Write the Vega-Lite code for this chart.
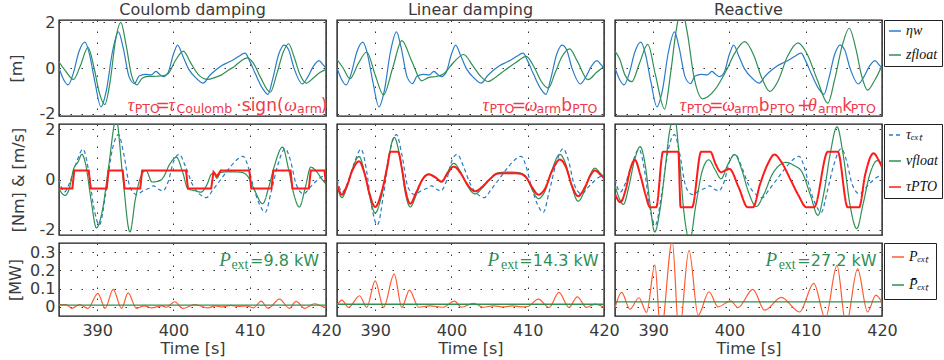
{
"$schema": "https://vega.github.io/schema/vega-lite/v6.json",
"background": "white",
"padding": {"left": 6, "top": 0, "right": 0, "bottom": 0},
"bounds": "flush",
"columns": 3,
"spacing": {"row": 8, "column": 11},
"config": {
  "view": {"stroke": "#1a1a1a", "strokeWidth": 1.4},
  "font": "DejaVu Sans",
  "axis": {"domain": false, "ticks": false, "grid": true, "gridColor": "#333", "gridDash": [1.5, 9.5], "gridWidth": 1, "labelFont": "DejaVu Sans", "labelFontSize": 16, "labelColor": "#3a3a3a", "titleFont": "DejaVu Sans", "titleFontSize": 16, "titleFontWeight": "normal", "titleColor": "#3a3a3a", "labelPadding": 4},
  "title": {"font": "DejaVu Sans", "fontSize": 16, "fontWeight": "normal", "color": "#3a3a3a", "offset": 2, "baseline": "alphabetic"},
  "legend": {"orient": "right", "offset": 2, "strokeColor": "#222", "fillColor": "white", "symbolType": "stroke", "symbolSize": 144, "symbolStrokeWidth": 1.5, "labelFont": "Liberation Serif", "labelFontStyle": "italic", "labelFontSize": 14, "labelColor": "#111", "labelOffset": 4, "title": null}
},
"datasets": {
  "eta": [{"t":385.0,"v":0.0},{"t":385.6,"v":-0.5},{"t":386.2,"v":-0.74},{"t":386.9,"v":-0.2},{"t":387.6,"v":0.7},{"t":388.4,"v":1.13},{"t":389.0,"v":0.6},{"t":389.7,"v":-0.6},{"t":390.5,"v":-1.7},{"t":391.2,"v":-1.0},{"t":392.0,"v":0.7},{"t":392.8,"v":1.58},{"t":393.4,"v":0.9},{"t":394.2,"v":-0.4},{"t":394.9,"v":-0.68},{"t":395.5,"v":-0.35},{"t":396.3,"v":-0.28},{"t":397.1,"v":-0.3},{"t":397.7,"v":-0.15},{"t":398.1,"v":-0.25},{"t":398.7,"v":-0.38},{"t":399.3,"v":-0.2},{"t":400.0,"v":0.6},{"t":400.55,"v":1.0},{"t":401.2,"v":0.55},{"t":402.0,"v":-0.05},{"t":403.0,"v":-0.45},{"t":403.9,"v":-0.66},{"t":404.7,"v":-0.35},{"t":405.5,"v":-0.1},{"t":406.3,"v":0.1},{"t":407.2,"v":0.25},{"t":407.8,"v":0.35},{"t":408.5,"v":0.5},{"t":409.4,"v":0.65},{"t":410.0,"v":0.3},{"t":410.8,"v":-0.3},{"t":411.7,"v":-0.9},{"t":412.4,"v":-1.15},{"t":413.0,"v":-0.5},{"t":413.8,"v":0.6},{"t":414.5,"v":1.0},{"t":415.1,"v":0.8},{"t":415.8,"v":0.0},{"t":416.9,"v":-0.7},{"t":417.6,"v":-0.4},{"t":418.4,"v":0.1},{"t":419.1,"v":0.32},{"t":419.6,"v":0.15},{"t":420.0,"v":0.0}],
  "zC": [{"t":385.0,"v":0.26},{"t":385.8,"v":-0.1},{"t":386.9,"v":-0.5},{"t":387.8,"v":0.1},{"t":388.8,"v":0.9},{"t":389.6,"v":0.0},{"t":390.3,"v":-1.1},{"t":391.0,"v":-1.6},{"t":391.7,"v":-0.6},{"t":392.4,"v":1.2},{"t":393.1,"v":2.0},{"t":393.8,"v":1.0},{"t":394.5,"v":-0.3},{"t":395.2,"v":-0.74},{"t":395.9,"v":-0.45},{"t":396.7,"v":-0.37},{"t":397.8,"v":-0.36},{"t":398.6,"v":-0.34},{"t":399.3,"v":-0.25},{"t":400.3,"v":0.35},{"t":401.3,"v":0.74},{"t":402.3,"v":0.2},{"t":403.3,"v":-0.3},{"t":404.5,"v":-0.5},{"t":405.4,"v":-0.42},{"t":406.3,"v":-0.3},{"t":407.2,"v":-0.1},{"t":408.0,"v":0.07},{"t":408.9,"v":0.32},{"t":409.7,"v":0.44},{"t":410.5,"v":0.2},{"t":411.4,"v":-0.4},{"t":412.7,"v":-1.06},{"t":413.6,"v":-0.2},{"t":414.4,"v":0.7},{"t":415.1,"v":1.06},{"t":415.8,"v":0.5},{"t":416.6,"v":-0.3},{"t":417.4,"v":-0.66},{"t":418.3,"v":-0.45},{"t":419.2,"v":-0.2},{"t":420.0,"v":-0.07}],
  "zL": [{"t":385.0,"v":0.37},{"t":385.8,"v":0.0},{"t":386.7,"v":-0.47},{"t":387.8,"v":0.2},{"t":388.9,"v":0.7},{"t":390.0,"v":-0.3},{"t":391.1,"v":-1.18},{"t":392.3,"v":0.0},{"t":393.5,"v":1.2},{"t":394.8,"v":0.3},{"t":396.1,"v":-0.56},{"t":397.0,"v":-0.42},{"t":398.0,"v":-0.37},{"t":399.0,"v":-0.25},{"t":400.3,"v":0.25},{"t":401.6,"v":0.59},{"t":402.8,"v":0.1},{"t":403.8,"v":-0.35},{"t":404.8,"v":-0.59},{"t":405.8,"v":-0.4},{"t":407.0,"v":-0.1},{"t":408.5,"v":0.25},{"t":409.8,"v":0.51},{"t":410.9,"v":0.0},{"t":411.8,"v":-0.6},{"t":412.7,"v":-0.88},{"t":413.6,"v":-0.2},{"t":414.5,"v":0.5},{"t":415.5,"v":0.84},{"t":416.5,"v":0.3},{"t":417.9,"v":-0.51},{"t":419.0,"v":-0.2},{"t":420.0,"v":0.07}],
  "zR": [{"t":385.0,"v":0.74},{"t":385.6,"v":0.4},{"t":386.3,"v":-0.3},{"t":387.2,"v":-0.6},{"t":388.2,"v":0.2},{"t":389.3,"v":1.03},{"t":390.3,"v":-0.3},{"t":391.5,"v":-1.8},{"t":392.3,"v":-0.2},{"t":393.0,"v":1.6},{"t":393.7,"v":2.6},{"t":394.5,"v":1.5},{"t":395.3,"v":-0.3},{"t":396.5,"v":-1.35},{"t":398.1,"v":-0.95},{"t":399.6,"v":-0.1},{"t":400.7,"v":0.65},{"t":402.0,"v":1.15},{"t":403.2,"v":0.55},{"t":404.2,"v":-0.4},{"t":405.3,"v":-1.03},{"t":406.4,"v":-0.55},{"t":407.6,"v":0.5},{"t":409.0,"v":1.1},{"t":410.2,"v":0.6},{"t":411.5,"v":-0.5},{"t":412.9,"v":-1.54},{"t":413.8,"v":-0.5},{"t":414.8,"v":1.0},{"t":415.7,"v":1.74},{"t":416.6,"v":0.8},{"t":417.3,"v":-0.3},{"t":418.1,"v":-0.97},{"t":419.1,"v":-0.5},{"t":420.0,"v":0.1}],
  "tauext": [{"t":385.0,"v":0.0},{"t":385.7,"v":-0.5},{"t":386.3,"v":-0.2},{"t":387.2,"v":0.6},{"t":388.15,"v":1.2},{"t":388.9,"v":0.3},{"t":389.5,"v":-1.0},{"t":390.3,"v":-1.8},{"t":391.1,"v":-0.6},{"t":392.0,"v":1.2},{"t":392.8,"v":1.78},{"t":393.5,"v":1.0},{"t":394.3,"v":-0.3},{"t":395.2,"v":-0.6},{"t":396.0,"v":-0.45},{"t":396.8,"v":-0.35},{"t":397.4,"v":-0.25},{"t":398.0,"v":-0.38},{"t":398.6,"v":-0.45},{"t":399.3,"v":-0.1},{"t":400.0,"v":0.7},{"t":400.75,"v":1.0},{"t":401.6,"v":0.5},{"t":402.5,"v":-0.2},{"t":403.5,"v":-0.6},{"t":404.3,"v":-0.72},{"t":405.2,"v":-0.4},{"t":406.2,"v":0.0},{"t":407.2,"v":0.4},{"t":408.2,"v":0.75},{"t":409.15,"v":0.92},{"t":409.8,"v":0.5},{"t":410.5,"v":-0.3},{"t":411.3,"v":-1.0},{"t":412.05,"v":-1.3},{"t":412.8,"v":-0.5},{"t":413.7,"v":0.6},{"t":414.65,"v":1.22},{"t":415.3,"v":0.8},{"t":416.1,"v":-0.2},{"t":417.05,"v":-0.57},{"t":417.8,"v":-0.35},{"t":418.6,"v":-0.1},{"t":419.4,"v":0.1},{"t":420.0,"v":0.15}],
  "vC": [{"t":385.0,"v":-0.37},{"t":385.8,"v":-0.63},{"t":386.4,"v":-0.3},{"t":386.9,"v":0.4},{"t":387.5,"v":0.7},{"t":388.0,"v":1.0},{"t":388.5,"v":0.6},{"t":389.2,"v":-0.8},{"t":389.9,"v":-1.92},{"t":390.7,"v":-1.2},{"t":391.5,"v":0.5},{"t":392.5,"v":2.4},{"t":393.3,"v":0.3},{"t":394.3,"v":-2.08},{"t":395.0,"v":-0.8},{"t":395.7,"v":0.1},{"t":396.4,"v":0.36},{"t":397.2,"v":-0.1},{"t":398.2,"v":-0.05},{"t":398.7,"v":0.1},{"t":399.5,"v":0.6},{"t":400.4,"v":0.88},{"t":401.2,"v":0.3},{"t":401.9,"v":-0.37},{"t":402.9,"v":-0.45},{"t":403.6,"v":-0.5},{"t":404.4,"v":-0.2},{"t":405.0,"v":0.22},{"t":405.3,"v":0.25},{"t":405.7,"v":0.05},{"t":406.2,"v":0.28},{"t":407.0,"v":0.3},{"t":408.0,"v":0.3},{"t":409.0,"v":0.28},{"t":409.8,"v":0.1},{"t":410.6,"v":-0.4},{"t":411.7,"v":-0.96},{"t":412.5,"v":-0.3},{"t":413.2,"v":0.5},{"t":414.3,"v":1.28},{"t":415.1,"v":0.4},{"t":415.8,"v":-0.6},{"t":416.5,"v":-1.09},{"t":417.3,"v":-0.3},{"t":418.0,"v":0.49},{"t":418.8,"v":0.3},{"t":419.5,"v":0.0},{"t":420.0,"v":-0.17}],
  "vL": [{"t":385.0,"v":-0.24},{"t":385.65,"v":-0.72},{"t":386.3,"v":-0.3},{"t":387.0,"v":0.4},{"t":387.9,"v":0.91},{"t":388.6,"v":0.3},{"t":389.3,"v":-0.7},{"t":390.0,"v":-1.33},{"t":390.8,"v":-0.7},{"t":391.6,"v":0.6},{"t":392.5,"v":1.67},{"t":393.3,"v":0.8},{"t":394.0,"v":-0.6},{"t":394.6,"v":-1.09},{"t":395.4,"v":-0.6},{"t":396.2,"v":0.0},{"t":397.0,"v":0.22},{"t":397.9,"v":0.1},{"t":398.7,"v":-0.1},{"t":399.5,"v":0.3},{"t":400.3,"v":0.64},{"t":401.2,"v":0.3},{"t":402.1,"v":-0.25},{"t":403.1,"v":-0.57},{"t":404.0,"v":-0.35},{"t":405.0,"v":0.0},{"t":406.0,"v":0.25},{"t":407.0,"v":0.29},{"t":408.0,"v":0.29},{"t":409.0,"v":0.26},{"t":409.8,"v":0.1},{"t":410.6,"v":-0.4},{"t":411.4,"v":-0.76},{"t":412.2,"v":-0.5},{"t":413.2,"v":0.4},{"t":414.2,"v":1.0},{"t":415.0,"v":0.6},{"t":415.8,"v":-0.3},{"t":416.6,"v":-0.86},{"t":417.5,"v":-0.4},{"t":418.2,"v":0.2},{"t":418.8,"v":0.45},{"t":419.5,"v":0.25},{"t":420.0,"v":0.1}],
  "vR": [{"t":385.0,"v":-0.24},{"t":385.5,"v":-0.7},{"t":386.1,"v":-0.99},{"t":386.8,"v":-0.3},{"t":387.5,"v":0.7},{"t":388.3,"v":1.3},{"t":389.0,"v":0.5},{"t":389.6,"v":-1.0},{"t":390.2,"v":-2.08},{"t":390.9,"v":-1.2},{"t":391.6,"v":0.5},{"t":392.1,"v":1.8},{"t":392.8,"v":2.5},{"t":393.4,"v":1.0},{"t":394.0,"v":-1.2},{"t":394.8,"v":-2.4},{"t":395.6,"v":-1.0},{"t":396.4,"v":0.3},{"t":397.3,"v":0.78},{"t":398.1,"v":0.4},{"t":398.9,"v":0.03},{"t":399.8,"v":0.6},{"t":400.7,"v":0.99},{"t":401.6,"v":0.4},{"t":402.5,"v":-0.5},{"t":403.5,"v":-1.07},{"t":404.5,"v":-0.6},{"t":405.6,"v":0.2},{"t":406.5,"v":0.55},{"t":407.4,"v":0.68},{"t":408.5,"v":0.55},{"t":409.5,"v":0.3},{"t":410.6,"v":-0.6},{"t":411.6,"v":-1.42},{"t":412.4,"v":-0.5},{"t":413.2,"v":1.0},{"t":414.1,"v":2.09},{"t":414.9,"v":1.0},{"t":415.8,"v":-1.0},{"t":416.7,"v":-1.95},{"t":417.5,"v":-1.0},{"t":418.4,"v":0.2},{"t":419.4,"v":0.75},{"t":420.0,"v":0.6}],
  "pC": [{"t":385.0,"v":-0.36},{"t":386.75,"v":-0.36},{"t":387.0,"v":0.36},{"t":388.9,"v":0.36},{"t":389.15,"v":-0.36},{"t":391.25,"v":-0.36},{"t":391.5,"v":0.36},{"t":393.35,"v":0.36},{"t":393.6,"v":-0.36},{"t":395.65,"v":-0.36},{"t":395.9,"v":0.36},{"t":401.65,"v":0.36},{"t":401.9,"v":-0.36},{"t":404.95,"v":-0.36},{"t":405.25,"v":0.3},{"t":405.7,"v":0.12},{"t":406.2,"v":0.36},{"t":409.95,"v":0.36},{"t":410.2,"v":-0.36},{"t":412.85,"v":-0.36},{"t":413.1,"v":0.36},{"t":415.35,"v":0.36},{"t":415.6,"v":-0.36},{"t":417.75,"v":-0.36},{"t":418.0,"v":0.36},{"t":419.8,"v":0.36},{"t":420.0,"v":-0.2}],
  "pL": [{"t":385.0,"v":-0.2},{"t":385.65,"v":-0.6},{"t":386.3,"v":-0.25},{"t":387.0,"v":0.35},{"t":387.9,"v":0.72},{"t":388.6,"v":0.25},{"t":389.3,"v":-0.6},{"t":390.0,"v":-1.09},{"t":390.8,"v":-0.55},{"t":391.6,"v":0.5},{"t":392.0,"v":1.1},{"t":393.0,"v":1.1},{"t":393.5,"v":0.45},{"t":394.0,"v":-0.45},{"t":394.6,"v":-0.96},{"t":395.4,"v":-0.5},{"t":396.2,"v":0.0},{"t":397.0,"v":0.2},{"t":397.9,"v":0.08},{"t":398.7,"v":-0.08},{"t":399.5,"v":0.25},{"t":400.3,"v":0.51},{"t":401.2,"v":0.25},{"t":402.1,"v":-0.2},{"t":403.1,"v":-0.47},{"t":404.0,"v":-0.3},{"t":405.0,"v":0.0},{"t":406.0,"v":0.23},{"t":407.0,"v":0.25},{"t":408.0,"v":0.25},{"t":409.0,"v":0.23},{"t":409.8,"v":0.08},{"t":410.6,"v":-0.32},{"t":411.4,"v":-0.6},{"t":412.2,"v":-0.4},{"t":413.2,"v":0.35},{"t":414.2,"v":0.79},{"t":415.0,"v":0.5},{"t":415.8,"v":-0.25},{"t":416.6,"v":-0.66},{"t":417.5,"v":-0.3},{"t":418.2,"v":0.15},{"t":418.8,"v":0.36},{"t":419.5,"v":0.2},{"t":420.0,"v":0.05}],
  "pR": [{"t":385.0,"v":-0.57},{"t":385.7,"v":-0.9},{"t":386.4,"v":-0.4},{"t":387.0,"v":0.4},{"t":387.6,"v":0.78},{"t":388.3,"v":0.2},{"t":389.0,"v":-0.6},{"t":389.6,"v":-1.1},{"t":390.4,"v":-1.1},{"t":391.3,"v":1.1},{"t":393.3,"v":1.1},{"t":393.6,"v":-1.1},{"t":395.1,"v":-1.1},{"t":396.3,"v":1.1},{"t":397.5,"v":1.1},{"t":398.2,"v":0.6},{"t":398.9,"v":0.29},{"t":399.5,"v":0.37},{"t":400.0,"v":0.42},{"t":401.2,"v":-0.3},{"t":402.4,"v":-1.1},{"t":403.1,"v":-1.1},{"t":404.0,"v":-0.2},{"t":405.0,"v":0.6},{"t":405.9,"v":0.99},{"t":406.8,"v":0.7},{"t":408.0,"v":0.0},{"t":409.0,"v":-0.6},{"t":410.1,"v":-1.1},{"t":411.1,"v":-1.1},{"t":412.9,"v":1.1},{"t":414.2,"v":1.1},{"t":415.5,"v":-1.1},{"t":417.0,"v":-1.1},{"t":417.8,"v":0.2},{"t":418.9,"v":1.04},{"t":419.5,"v":0.8},{"t":420.0,"v":0.49}],
  "PC": [{"t":385.0,"v":0.013},{"t":385.95,"v":0.013},{"t":386.66,"v":-0.008},{"t":387.7,"v":0.013},{"t":388.8,"v":-0.008},{"t":390.1,"v":0.074},{"t":391.05,"v":-0.008},{"t":392.1,"v":0.096},{"t":393.2,"v":-0.008},{"t":394.06,"v":0.077},{"t":395.15,"v":-0.008},{"t":396.2,"v":0.006},{"t":397.1,"v":-0.005},{"t":398.5,"v":0.005},{"t":399.1,"v":-0.002},{"t":400.16,"v":0.028},{"t":401.25,"v":-0.008},{"t":402.8,"v":0.013},{"t":404.5,"v":-0.006},{"t":405.5,"v":0.006},{"t":406.4,"v":0.0},{"t":407.5,"v":0.008},{"t":408.5,"v":0.003},{"t":409.5,"v":0.006},{"t":410.5,"v":-0.005},{"t":411.5,"v":0.031},{"t":412.4,"v":-0.008},{"t":413.9,"v":0.042},{"t":415.2,"v":-0.008},{"t":416.07,"v":0.03},{"t":417.2,"v":-0.008},{"t":418.5,"v":0.017},{"t":419.3,"v":0.006},{"t":420.0,"v":-0.005}],
  "PL": [{"t":385.0,"v":0.01},{"t":385.65,"v":0.037},{"t":386.5,"v":-0.003},{"t":387.96,"v":0.061},{"t":388.9,"v":-0.003},{"t":390.0,"v":0.142},{"t":391.1,"v":-0.003},{"t":392.5,"v":0.179},{"t":393.5,"v":-0.003},{"t":394.5,"v":0.092},{"t":395.7,"v":-0.002},{"t":397.2,"v":0.006},{"t":398.9,"v":-0.002},{"t":400.4,"v":0.031},{"t":401.3,"v":-0.002},{"t":402.9,"v":0.02},{"t":404.2,"v":-0.002},{"t":405.5,"v":0.006},{"t":406.8,"v":0.0},{"t":408.0,"v":0.006},{"t":409.3,"v":0.0},{"t":410.0,"v":0.002},{"t":411.4,"v":0.042},{"t":412.8,"v":-0.003},{"t":414.1,"v":0.079},{"t":415.4,"v":-0.003},{"t":416.5,"v":0.055},{"t":417.7,"v":-0.003},{"t":418.8,"v":0.015},{"t":420.0,"v":-0.002}],
  "PR": [{"t":385.0,"v":-0.005},{"t":385.87,"v":0.079},{"t":386.96,"v":-0.013},{"t":388.14,"v":0.05},{"t":389.14,"v":-0.03},{"t":390.23,"v":0.23},{"t":391.0,"v":-0.15},{"t":392.5,"v":0.36},{"t":393.4,"v":-0.15},{"t":394.7,"v":0.31},{"t":395.9,"v":-0.046},{"t":397.33,"v":0.083},{"t":398.5,"v":0.0},{"t":400.16,"v":0.033},{"t":401.12,"v":-0.004},{"t":403.08,"v":0.096},{"t":404.6,"v":-0.018},{"t":406.8,"v":0.052},{"t":409.2,"v":-0.028},{"t":411.06,"v":0.129},{"t":412.58,"v":-0.064},{"t":414.1,"v":0.227},{"t":415.28,"v":-0.1},{"t":416.8,"v":0.208},{"t":418.1,"v":-0.028},{"t":419.2,"v":0.064},{"t":420.0,"v":0.024}],
  "PbC": [{"t":385,"v":0.0098},{"t":420,"v":0.0098}],
  "PbL": [{"t":385,"v":0.0143},{"t":420,"v":0.0143}],
  "PbR": [{"t":385,"v":0.0272},{"t":420,"v":0.0272}],
  "eqC": [{"t":394.01,"v":-1.86,"k":"g","txt":"τ"},{"t":394.93,"v":-1.95,"k":"s","txt":"PTO"},{"t":397.65,"v":-1.86,"k":"m","txt":"="},{"t":399.37,"v":-1.86,"k":"g","txt":"τ"},{"t":400.41,"v":-1.95,"k":"s","txt":"Coulomb"},{"t":408.25,"v":-1.86,"k":"m","txt":"·sign("},{"t":414.52,"v":-1.86,"k":"g","txt":"ω"},{"t":416.21,"v":-1.95,"k":"s","txt":"arm"},{"t":419.3,"v":-1.86,"k":"m","txt":")"}],
  "eqL": [{"t":404.07,"v":-1.86,"k":"g","txt":"τ"},{"t":404.98,"v":-1.95,"k":"s","txt":"PTO"},{"t":407.9,"v":-1.86,"k":"m","txt":"="},{"t":409.6,"v":-1.86,"k":"g","txt":"ω"},{"t":411.15,"v":-1.95,"k":"s","txt":"arm"},{"t":414.4,"v":-1.86,"k":"m","txt":"b"},{"t":415.85,"v":-1.95,"k":"s","txt":"PTO"}],
  "eqR": [{"t":393.49,"v":-1.86,"k":"g","txt":"τ"},{"t":394.4,"v":-1.95,"k":"s","txt":"PTO"},{"t":397.35,"v":-1.86,"k":"m","txt":"="},{"t":399.05,"v":-1.86,"k":"g","txt":"ω"},{"t":400.6,"v":-1.95,"k":"s","txt":"arm"},{"t":403.85,"v":-1.86,"k":"m","txt":"b"},{"t":405.3,"v":-1.95,"k":"s","txt":"PTO"},{"t":408.85,"v":-1.86,"k":"m","txt":"+"},{"t":410.3,"v":-1.86,"k":"g","txt":"θ"},{"t":411.6,"v":-1.95,"k":"s","txt":"arm"},{"t":414.8,"v":-1.86,"k":"m","txt":"k"},{"t":415.9,"v":-1.95,"k":"s","txt":"PTO"}],
  "txC": [{"t":406.0,"v":0.224,"k":"g","txt":"P"},{"t":407.6,"v":0.207,"k":"s","txt":"ext"},{"t":410.05,"v":0.224,"k":"m","txt":"=9.8 kW"}],
  "txL": [{"t":404.72,"v":0.224,"k":"g","txt":"P"},{"t":406.5,"v":0.207,"k":"s","txt":"ext"},{"t":408.9,"v":0.224,"k":"m","txt":"=14.3 kW"}],
  "txR": [{"t":404.72,"v":0.224,"k":"g","txt":"P"},{"t":406.45,"v":0.207,"k":"s","txt":"ext"},{"t":408.9,"v":0.224,"k":"m","txt":"=27.2 kW"}]
},
"resolve": {"scale": {"color": "independent", "strokeDash": "independent"}},
"concat": [
  {"width": 267, "height": 96, "title": {"text": "Coulomb damping", "offset": -4},
   "encoding": {"x": {"field": "t", "type": "quantitative", "scale": {"domain": [385, 420], "nice": false, "zero": false}, "axis": {"values": [390, 400, 410, 420], "labels": false, "title": null}},
                "y": {"field": "v", "type": "quantitative", "scale": {"domain": [-2.1, 2.1], "nice": false, "zero": false}, "axis": {"values": [-2, 0, 2], "title": "[m]", "titlePadding": 15, "labelExpr": "'' + datum.value"}}},
   "layer": [
    {"data": {"name": "eta"}, "mark": {"type": "line", "interpolate": "monotone", "strokeWidth": 1.2, "clip": true}, "encoding": {"color": {"datum": "ηw", "type": "nominal", "scale": {"domain": ["ηw", "zfloat"], "range": ["#2a7cc7", "#2f8f55"]}, "legend": null}}},
    {"data": {"name": "zC"}, "mark": {"type": "line", "interpolate": "monotone", "strokeWidth": 1.2, "clip": true}, "encoding": {"color": {"datum": "zfloat", "type": "nominal", "scale": {"domain": ["ηw", "zfloat"], "range": ["#2a7cc7", "#2f8f55"]}, "legend": null}}},
    {"data": {"name": "eqC"}, "transform": [{"filter": "datum.k == 'g'"}], "mark": {"type": "text", "align": "left", "baseline": "alphabetic", "font": "Liberation Serif", "fontStyle": "italic", "fontSize": 18, "color": "#f03a4a"}, "encoding": {"text": {"field": "txt"}}},
    {"data": {"name": "eqC"}, "transform": [{"filter": "datum.k == 'm'"}], "mark": {"type": "text", "align": "left", "baseline": "alphabetic", "font": "DejaVu Sans", "fontSize": 17, "color": "#f03a4a"}, "encoding": {"text": {"field": "txt"}}},
    {"data": {"name": "eqC"}, "transform": [{"filter": "datum.k == 's'"}], "mark": {"type": "text", "align": "left", "baseline": "alphabetic", "font": "DejaVu Sans", "fontSize": 12.5, "color": "#f03a4a"}, "encoding": {"text": {"field": "txt"}}}
   ]},
  {"width": 267, "height": 96, "title": "Linear damping",
   "encoding": {"x": {"field": "t", "type": "quantitative", "scale": {"domain": [385, 420], "nice": false, "zero": false}, "axis": {"values": [390, 400, 410, 420], "labels": false, "title": null}},
                "y": {"field": "v", "type": "quantitative", "scale": {"domain": [-2.1, 2.1], "nice": false, "zero": false}, "axis": {"values": [-2, 0, 2], "labels": false, "title": null}}},
   "layer": [
    {"data": {"name": "eta"}, "mark": {"type": "line", "interpolate": "monotone", "strokeWidth": 1.2, "clip": true}, "encoding": {"color": {"datum": "ηw", "type": "nominal", "scale": {"domain": ["ηw", "zfloat"], "range": ["#2a7cc7", "#2f8f55"]}, "legend": null}}},
    {"data": {"name": "zL"}, "mark": {"type": "line", "interpolate": "monotone", "strokeWidth": 1.2, "clip": true}, "encoding": {"color": {"datum": "zfloat", "type": "nominal", "scale": {"domain": ["ηw", "zfloat"], "range": ["#2a7cc7", "#2f8f55"]}, "legend": null}}},
    {"data": {"name": "eqL"}, "transform": [{"filter": "datum.k == 'g'"}], "mark": {"type": "text", "align": "left", "baseline": "alphabetic", "font": "Liberation Serif", "fontStyle": "italic", "fontSize": 18, "color": "#f03a4a"}, "encoding": {"text": {"field": "txt"}}},
    {"data": {"name": "eqL"}, "transform": [{"filter": "datum.k == 'm'"}], "mark": {"type": "text", "align": "left", "baseline": "alphabetic", "font": "DejaVu Sans", "fontSize": 17, "color": "#f03a4a"}, "encoding": {"text": {"field": "txt"}}},
    {"data": {"name": "eqL"}, "transform": [{"filter": "datum.k == 's'"}], "mark": {"type": "text", "align": "left", "baseline": "alphabetic", "font": "DejaVu Sans", "fontSize": 12.5, "color": "#f03a4a"}, "encoding": {"text": {"field": "txt"}}}
   ]},
  {"width": 267, "height": 96, "title": "Reactive",
   "encoding": {"x": {"field": "t", "type": "quantitative", "scale": {"domain": [385, 420], "nice": false, "zero": false}, "axis": {"values": [390, 400, 410, 420], "labels": false, "title": null}},
                "y": {"field": "v", "type": "quantitative", "scale": {"domain": [-2.1, 2.1], "nice": false, "zero": false}, "axis": {"values": [-2, 0, 2], "labels": false, "title": null}}},
   "layer": [
    {"data": {"name": "eta"}, "mark": {"type": "line", "interpolate": "monotone", "strokeWidth": 1.2, "clip": true}, "encoding": {"color": {"datum": "ηw", "type": "nominal", "scale": {"domain": ["ηw", "zfloat"], "range": ["#2a7cc7", "#2f8f55"]}, "legend": {"padding": 4, "rowPadding": 10}}}},
    {"data": {"name": "zR"}, "mark": {"type": "line", "interpolate": "monotone", "strokeWidth": 1.2, "clip": true}, "encoding": {"color": {"datum": "zfloat", "type": "nominal", "scale": {"domain": ["ηw", "zfloat"], "range": ["#2a7cc7", "#2f8f55"]}, "legend": {"padding": 4, "rowPadding": 10}}}},
    {"data": {"name": "eqR"}, "transform": [{"filter": "datum.k == 'g'"}], "mark": {"type": "text", "align": "left", "baseline": "alphabetic", "font": "Liberation Serif", "fontStyle": "italic", "fontSize": 18, "color": "#f03a4a"}, "encoding": {"text": {"field": "txt"}}},
    {"data": {"name": "eqR"}, "transform": [{"filter": "datum.k == 'm'"}], "mark": {"type": "text", "align": "left", "baseline": "alphabetic", "font": "DejaVu Sans", "fontSize": 17, "color": "#f03a4a"}, "encoding": {"text": {"field": "txt"}}},
    {"data": {"name": "eqR"}, "transform": [{"filter": "datum.k == 's'"}], "mark": {"type": "text", "align": "left", "baseline": "alphabetic", "font": "DejaVu Sans", "fontSize": 12.5, "color": "#f03a4a"}, "encoding": {"text": {"field": "txt"}}}
   ]},
  {"width": 267, "height": 111,
   "encoding": {"x": {"field": "t", "type": "quantitative", "scale": {"domain": [385, 420], "nice": false, "zero": false}, "axis": {"values": [390, 400, 410, 420], "labels": false, "title": null}},
                "y": {"field": "v", "type": "quantitative", "scale": {"domain": [-2.2, 2.2], "nice": false, "zero": false}, "axis": {"values": [-2, 0, 2], "title": "[Nm] & [m/s]", "titlePadding": 13, "labelExpr": "'' + datum.value"}}},
   "layer": [
    {"data": {"name": "tauext"}, "mark": {"type": "line", "interpolate": "monotone", "strokeWidth": 1.2, "clip": true}, "encoding": {"color": {"datum": "τₑₓₜ", "type": "nominal", "scale": {"domain": ["τₑₓₜ", "vfloat", "τPTO"], "range": ["#2a7cc7", "#2f8f55", "#ff1a1a"]}, "legend": null}, "strokeDash": {"datum": "τₑₓₜ", "type": "nominal", "scale": {"domain": ["τₑₓₜ", "vfloat", "τPTO"], "range": [[4, 3], [1, 0], [1, 0]]}, "legend": null}}},
    {"data": {"name": "vC"}, "mark": {"type": "line", "interpolate": "monotone", "strokeWidth": 1.2, "clip": true}, "encoding": {"color": {"datum": "vfloat", "type": "nominal", "scale": {"domain": ["τₑₓₜ", "vfloat", "τPTO"], "range": ["#2a7cc7", "#2f8f55", "#ff1a1a"]}, "legend": null}, "strokeDash": {"datum": "vfloat", "type": "nominal", "scale": {"domain": ["τₑₓₜ", "vfloat", "τPTO"], "range": [[4, 3], [1, 0], [1, 0]]}, "legend": null}}},
    {"data": {"name": "pC"}, "mark": {"type": "line", "interpolate": "linear", "strokeWidth": 2, "clip": true}, "encoding": {"color": {"datum": "τPTO", "type": "nominal", "scale": {"domain": ["τₑₓₜ", "vfloat", "τPTO"], "range": ["#2a7cc7", "#2f8f55", "#ff1a1a"]}, "legend": null}, "strokeDash": {"datum": "τPTO", "type": "nominal", "scale": {"domain": ["τₑₓₜ", "vfloat", "τPTO"], "range": [[4, 3], [1, 0], [1, 0]]}, "legend": null}}}
   ]},
  {"width": 267, "height": 111,
   "encoding": {"x": {"field": "t", "type": "quantitative", "scale": {"domain": [385, 420], "nice": false, "zero": false}, "axis": {"values": [390, 400, 410, 420], "labels": false, "title": null}},
                "y": {"field": "v", "type": "quantitative", "scale": {"domain": [-2.2, 2.2], "nice": false, "zero": false}, "axis": {"values": [-2, 0, 2], "labels": false, "title": null}}},
   "layer": [
    {"data": {"name": "tauext"}, "mark": {"type": "line", "interpolate": "monotone", "strokeWidth": 1.2, "clip": true}, "encoding": {"color": {"datum": "τₑₓₜ", "type": "nominal", "scale": {"domain": ["τₑₓₜ", "vfloat", "τPTO"], "range": ["#2a7cc7", "#2f8f55", "#ff1a1a"]}, "legend": null}, "strokeDash": {"datum": "τₑₓₜ", "type": "nominal", "scale": {"domain": ["τₑₓₜ", "vfloat", "τPTO"], "range": [[4, 3], [1, 0], [1, 0]]}, "legend": null}}},
    {"data": {"name": "vL"}, "mark": {"type": "line", "interpolate": "monotone", "strokeWidth": 1.2, "clip": true}, "encoding": {"color": {"datum": "vfloat", "type": "nominal", "scale": {"domain": ["τₑₓₜ", "vfloat", "τPTO"], "range": ["#2a7cc7", "#2f8f55", "#ff1a1a"]}, "legend": null}, "strokeDash": {"datum": "vfloat", "type": "nominal", "scale": {"domain": ["τₑₓₜ", "vfloat", "τPTO"], "range": [[4, 3], [1, 0], [1, 0]]}, "legend": null}}},
    {"data": {"name": "pL"}, "mark": {"type": "line", "interpolate": "monotone", "strokeWidth": 2, "clip": true}, "encoding": {"color": {"datum": "τPTO", "type": "nominal", "scale": {"domain": ["τₑₓₜ", "vfloat", "τPTO"], "range": ["#2a7cc7", "#2f8f55", "#ff1a1a"]}, "legend": null}, "strokeDash": {"datum": "τPTO", "type": "nominal", "scale": {"domain": ["τₑₓₜ", "vfloat", "τPTO"], "range": [[4, 3], [1, 0], [1, 0]]}, "legend": null}}}
   ]},
  {"width": 267, "height": 111,
   "encoding": {"x": {"field": "t", "type": "quantitative", "scale": {"domain": [385, 420], "nice": false, "zero": false}, "axis": {"values": [390, 400, 410, 420], "labels": false, "title": null}},
                "y": {"field": "v", "type": "quantitative", "scale": {"domain": [-2.2, 2.2], "nice": false, "zero": false}, "axis": {"values": [-2, 0, 2], "labels": false, "title": null}}},
   "layer": [
    {"data": {"name": "tauext"}, "mark": {"type": "line", "interpolate": "monotone", "strokeWidth": 1.2, "clip": true}, "encoding": {"color": {"datum": "τₑₓₜ", "type": "nominal", "scale": {"domain": ["τₑₓₜ", "vfloat", "τPTO"], "range": ["#2a7cc7", "#2f8f55", "#ff1a1a"]}, "legend": {"padding": 4, "rowPadding": 12}}, "strokeDash": {"datum": "τₑₓₜ", "type": "nominal", "scale": {"domain": ["τₑₓₜ", "vfloat", "τPTO"], "range": [[4, 3], [1, 0], [1, 0]]}, "legend": {"padding": 4, "rowPadding": 12}}}},
    {"data": {"name": "vR"}, "mark": {"type": "line", "interpolate": "monotone", "strokeWidth": 1.2, "clip": true}, "encoding": {"color": {"datum": "vfloat", "type": "nominal", "scale": {"domain": ["τₑₓₜ", "vfloat", "τPTO"], "range": ["#2a7cc7", "#2f8f55", "#ff1a1a"]}, "legend": {"padding": 4, "rowPadding": 12}}, "strokeDash": {"datum": "vfloat", "type": "nominal", "scale": {"domain": ["τₑₓₜ", "vfloat", "τPTO"], "range": [[4, 3], [1, 0], [1, 0]]}, "legend": {"padding": 4, "rowPadding": 12}}}},
    {"data": {"name": "pR"}, "mark": {"type": "line", "interpolate": "monotone", "strokeWidth": 2, "clip": true}, "encoding": {"color": {"datum": "τPTO", "type": "nominal", "scale": {"domain": ["τₑₓₜ", "vfloat", "τPTO"], "range": ["#2a7cc7", "#2f8f55", "#ff1a1a"]}, "legend": {"padding": 4, "rowPadding": 12}}, "strokeDash": {"datum": "τPTO", "type": "nominal", "scale": {"domain": ["τₑₓₜ", "vfloat", "τPTO"], "range": [[4, 3], [1, 0], [1, 0]]}, "legend": {"padding": 4, "rowPadding": 12}}}}
   ]},
  {"width": 267, "height": 73,
   "encoding": {"x": {"field": "t", "type": "quantitative", "scale": {"domain": [385, 420], "nice": false, "zero": false}, "axis": {"values": [390, 400, 410, 420], "title": "Time [s]", "labelFlush": false, "labelOverlap": false, "labelPadding": 6, "titlePadding": 2, "labelExpr": "'' + datum.value"}},
                "y": {"field": "v", "type": "quantitative", "scale": {"domain": [-0.05, 0.35], "nice": false, "zero": false}, "axis": {"values": [0, 0.1, 0.2, 0.3], "title": "[MW]", "titlePadding": 6, "labelExpr": "'' + datum.value"}}},
   "layer": [
    {"data": {"name": "PC"}, "mark": {"type": "line", "interpolate": "monotone", "strokeWidth": 1.2, "clip": true}, "encoding": {"color": {"datum": "Pₑₓₜ", "type": "nominal", "scale": {"domain": ["Pₑₓₜ", "P̄ₑₓₜ"], "range": ["#ff5a30", "#2f8f55"]}, "legend": null}}},
    {"data": {"name": "PbC"}, "mark": {"type": "line", "strokeWidth": 1.4, "clip": true}, "encoding": {"color": {"datum": "P̄ₑₓₜ", "type": "nominal", "scale": {"domain": ["Pₑₓₜ", "P̄ₑₓₜ"], "range": ["#ff5a30", "#2f8f55"]}, "legend": null}}},
    {"data": {"name": "txC"}, "transform": [{"filter": "datum.k == 'g'"}], "mark": {"type": "text", "align": "left", "baseline": "alphabetic", "font": "Liberation Serif", "fontStyle": "italic", "fontSize": 19, "color": "#2f8f55"}, "encoding": {"text": {"field": "txt"}}},
    {"data": {"name": "txC"}, "transform": [{"filter": "datum.k == 'm'"}], "mark": {"type": "text", "align": "left", "baseline": "alphabetic", "font": "DejaVu Sans", "fontSize": 16, "color": "#2f8f55"}, "encoding": {"text": {"field": "txt"}}},
    {"data": {"name": "txC"}, "transform": [{"filter": "datum.k == 's'"}], "mark": {"type": "text", "align": "left", "baseline": "alphabetic", "font": "Liberation Serif", "fontSize": 14, "color": "#2f8f55"}, "encoding": {"text": {"field": "txt"}}}
   ]},
  {"width": 267, "height": 73,
   "encoding": {"x": {"field": "t", "type": "quantitative", "scale": {"domain": [385, 420], "nice": false, "zero": false}, "axis": {"values": [390, 400, 410, 420], "title": "Time [s]", "labelFlush": false, "labelOverlap": false, "labelPadding": 6, "titlePadding": 2, "labelExpr": "'' + datum.value"}},
                "y": {"field": "v", "type": "quantitative", "scale": {"domain": [-0.05, 0.35], "nice": false, "zero": false}, "axis": {"values": [0, 0.1, 0.2, 0.3], "labels": false, "title": null}}},
   "layer": [
    {"data": {"name": "PL"}, "mark": {"type": "line", "interpolate": "monotone", "strokeWidth": 1.2, "clip": true}, "encoding": {"color": {"datum": "Pₑₓₜ", "type": "nominal", "scale": {"domain": ["Pₑₓₜ", "P̄ₑₓₜ"], "range": ["#ff5a30", "#2f8f55"]}, "legend": null}}},
    {"data": {"name": "PbL"}, "mark": {"type": "line", "strokeWidth": 1.4, "clip": true}, "encoding": {"color": {"datum": "P̄ₑₓₜ", "type": "nominal", "scale": {"domain": ["Pₑₓₜ", "P̄ₑₓₜ"], "range": ["#ff5a30", "#2f8f55"]}, "legend": null}}},
    {"data": {"name": "txL"}, "transform": [{"filter": "datum.k == 'g'"}], "mark": {"type": "text", "align": "left", "baseline": "alphabetic", "font": "Liberation Serif", "fontStyle": "italic", "fontSize": 19, "color": "#2f8f55"}, "encoding": {"text": {"field": "txt"}}},
    {"data": {"name": "txL"}, "transform": [{"filter": "datum.k == 'm'"}], "mark": {"type": "text", "align": "left", "baseline": "alphabetic", "font": "DejaVu Sans", "fontSize": 16, "color": "#2f8f55"}, "encoding": {"text": {"field": "txt"}}},
    {"data": {"name": "txL"}, "transform": [{"filter": "datum.k == 's'"}], "mark": {"type": "text", "align": "left", "baseline": "alphabetic", "font": "Liberation Serif", "fontSize": 14, "color": "#2f8f55"}, "encoding": {"text": {"field": "txt"}}}
   ]},
  {"width": 267, "height": 73,
   "encoding": {"x": {"field": "t", "type": "quantitative", "scale": {"domain": [385, 420], "nice": false, "zero": false}, "axis": {"values": [390, 400, 410, 420], "title": "Time [s]", "labelFlush": false, "labelOverlap": false, "labelPadding": 6, "titlePadding": 2, "labelExpr": "'' + datum.value"}},
                "y": {"field": "v", "type": "quantitative", "scale": {"domain": [-0.05, 0.35], "nice": false, "zero": false}, "axis": {"values": [0, 0.1, 0.2, 0.3], "labels": false, "title": null}}},
   "layer": [
    {"data": {"name": "PR"}, "mark": {"type": "line", "interpolate": "monotone", "strokeWidth": 1.2, "clip": true}, "encoding": {"color": {"datum": "Pₑₓₜ", "type": "nominal", "scale": {"domain": ["Pₑₓₜ", "P̄ₑₓₜ"], "range": ["#ff5a30", "#2f8f55"]}, "legend": {"padding": 7, "rowPadding": 14}}}},
    {"data": {"name": "PbR"}, "mark": {"type": "line", "strokeWidth": 1.4, "clip": true}, "encoding": {"color": {"datum": "P̄ₑₓₜ", "type": "nominal", "scale": {"domain": ["Pₑₓₜ", "P̄ₑₓₜ"], "range": ["#ff5a30", "#2f8f55"]}, "legend": {"padding": 7, "rowPadding": 14}}}},
    {"data": {"name": "txR"}, "transform": [{"filter": "datum.k == 'g'"}], "mark": {"type": "text", "align": "left", "baseline": "alphabetic", "font": "Liberation Serif", "fontStyle": "italic", "fontSize": 19, "color": "#2f8f55"}, "encoding": {"text": {"field": "txt"}}},
    {"data": {"name": "txR"}, "transform": [{"filter": "datum.k == 'm'"}], "mark": {"type": "text", "align": "left", "baseline": "alphabetic", "font": "DejaVu Sans", "fontSize": 16, "color": "#2f8f55"}, "encoding": {"text": {"field": "txt"}}},
    {"data": {"name": "txR"}, "transform": [{"filter": "datum.k == 's'"}], "mark": {"type": "text", "align": "left", "baseline": "alphabetic", "font": "Liberation Serif", "fontSize": 14, "color": "#2f8f55"}, "encoding": {"text": {"field": "txt"}}}
   ]}
]
}
